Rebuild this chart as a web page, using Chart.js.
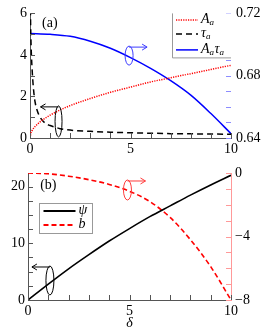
<!DOCTYPE html>
<html>
<head>
<meta charset="utf-8">
<script src="https://cdn.jsdelivr.net/npm/chart.js@4"></script>
<style>
body { margin: 0; background: #fff; }
#wrap { position: relative; width: 268px; height: 332px; }
canvas { position: absolute; left: 0; }
</style>
</head>
<body>
<div id="wrap">
  <canvas id="topChart" width="268" height="160" style="top:0px"></canvas>
  <canvas id="botChart" width="268" height="172" style="top:160px"></canvas>
</div>
<script>
// panel (a)
var deltaA = [0, 0.05, 0.1, 0.2, 0.3, 0.5, 0.75, 1, 1.5, 2, 3, 4, 5, 6, 7, 8, 9, 10];
var ampA = [0, 0.25, 0.35, 0.5, 0.6, 0.78, 0.95, 1.1, 1.35, 1.56, 1.9, 2.2, 2.45, 2.7, 2.9, 3.1, 3.3, 3.5];
var deltaTau = [0.02, 0.04, 0.07, 0.1, 0.13, 0.18, 0.25, 0.35, 0.5, 0.75, 1, 1.25, 1.5, 2, 3, 4, 5, 6, 7, 8, 9, 10];
var tauA = [6.2, 5.0, 4.0, 3.4, 2.9, 2.3, 1.75, 1.35, 1.0, 0.72, 0.6, 0.52, 0.45, 0.38, 0.32, 0.28, 0.25, 0.23, 0.21, 0.2, 0.19, 0.18];
var deltaP = [0, 1, 2, 3, 4, 5, 6, 7, 8, 9, 10];
var prodA = [0.7071, 0.7066, 0.7053, 0.7021, 0.6976, 0.6916, 0.6847, 0.6768, 0.6675, 0.6557, 0.6428];

// panel (b)
var deltaB = [0, 1, 2, 3, 4, 5, 6, 7, 8, 9, 10];
var psiB = [0, 2.8, 5.5, 8.0, 10.4, 12.6, 14.7, 16.6, 18.5, 20.3, 22.0];
var bB = [0, -0.05, -0.2, -0.42, -0.72, -1.15, -1.8, -2.8, -4.2, -5.9, -8.0];

// ticks
var xTicks = [0, 1, 2, 3, 4, 5, 6, 7, 8, 9, 10];
var xLabels = [0, 5, 10];
var aLeftTicks = [0, 1, 2, 3, 4, 5, 6];
var aLeftLabels = [0, 2, 4, 6];
var aRightTicks = [0.64, 0.65, 0.66, 0.67, 0.68, 0.69, 0.70, 0.71, 0.72];
var aRightLabels = [0.64, 0.68, 0.72];
var bLeftTicks = [0, 2.5, 5, 7.5, 10, 12.5, 15, 17.5, 20];
var bLeftLabels = [0, 10, 20];
var bRightTicks = [-8, -7, -6, -5, -4, -3, -2, -1, 0];
var bRightLabels = [-8, -4, 0];

var serif = "'Liberation Serif', 'DejaVu Serif', serif";
var axisGray = '#555';

function pts(xs, ys) {
  return xs.map(function (x, i) { return { x: x, y: ys[i] }; });
}

function setTicks(list) {
  return function (scale) {
    scale.ticks = list.map(function (v) { return { value: v }; });
  };
}

function tickMarks(chart, id, values, color) {
  var ctx = chart.ctx, s = chart.scales[id], a = chart.chartArea;
  ctx.save();
  ctx.strokeStyle = color;
  ctx.lineWidth = 1;
  ctx.beginPath();
  values.forEach(function (v) {
    var p = Math.round(s.getPixelForValue(v)) + 0.5;
    if (id === 'x') { ctx.moveTo(p, a.bottom); ctx.lineTo(p, a.bottom - 5); }
    else if (s.position === 'left') { ctx.moveTo(a.left, p); ctx.lineTo(a.left + 5, p); }
    else { ctx.moveTo(a.right, p); ctx.lineTo(a.right - 5, p); }
  });
  ctx.stroke();
  ctx.restore();
}

function ellipseArrow(ctx, cx, cy, rx, ry, color, dir) {
  ctx.save();
  ctx.strokeStyle = color;
  ctx.lineWidth = 1;
  ctx.beginPath();
  ctx.ellipse(cx, cy, rx, ry, 0, 0, Math.PI * 2);
  ctx.stroke();
  var y = cy - ry + 1;
  var x1 = cx + dir * 18;
  ctx.beginPath();
  ctx.moveTo(cx, y);
  ctx.lineTo(x1, y);
  ctx.moveTo(x1 - dir * 5, y - 3);
  ctx.lineTo(x1, y);
  ctx.lineTo(x1 - dir * 5, y + 3);
  ctx.stroke();
  ctx.restore();
}

function mathText(ctx, parts, x, y) {
  // parts: [text, isSub]
  parts.forEach(function (p) {
    ctx.font = 'italic ' + (p[1] ? 9 : 14) + 'px ' + serif;
    ctx.fillText(p[0], x, p[1] ? y + 3 : y);
    x += ctx.measureText(p[0]).width + (p[1] ? 0.5 : 0);
  });
}

function legendLine(ctx, x0, x1, y, color, dash, width) {
  ctx.save();
  ctx.strokeStyle = color;
  ctx.lineWidth = width;
  ctx.setLineDash(dash);
  ctx.beginPath();
  ctx.moveTo(x0, y);
  ctx.lineTo(x1, y);
  ctx.stroke();
  ctx.restore();
}

var decorA = {
  id: 'decorA',
  afterDatasetsDraw: function (chart) {
    var ctx = chart.ctx, sx = chart.scales.x, sy = chart.scales.y, sr = chart.scales.y2, a = chart.chartArea;
    tickMarks(chart, 'x', xTicks, axisGray);
    tickMarks(chart, 'y', aLeftTicks, axisGray);
    tickMarks(chart, 'y2', aRightTicks, '#8c8cff');
    ellipseArrow(ctx, sx.getPixelForValue(4.93), sr.getPixelForValue(0.6929), 4, 9.5, '#3c3cff', 1);
    ellipseArrow(ctx, sx.getPixelForValue(1.42), sy.getPixelForValue(0.8), 3.5, 15.5, '#000', -1);
    ctx.save();
    ctx.fillStyle = '#000';
    ctx.textBaseline = 'middle';
    ctx.font = '14px ' + serif;
    ctx.fillText('(a)', sx.getPixelForValue(0.6), sy.getPixelForValue(5.5));
    // legend box
    var bx = a.right - 59, by = a.top, bw = 59, bh = 44;
    ctx.fillStyle = '#fff';
    ctx.fillRect(bx, by, bw, bh);
    ctx.strokeStyle = '#999';
    ctx.lineWidth = 1;
    ctx.beginPath();
    ctx.moveTo(bx + 0.5, by);
    ctx.lineTo(bx + 0.5, by + bh + 0.5);
    ctx.lineTo(bx + bw, by + bh + 0.5);
    ctx.stroke();
    legendLine(ctx, bx + 4, bx + 26, by + 6.5, '#ff0000', [1.2, 1.2], 1.5);
    legendLine(ctx, bx + 4, bx + 26, by + 20.5, '#000', [6, 4], 1.5);
    legendLine(ctx, bx + 4, bx + 26, by + 36.5, '#0000ff', [], 1.5);
    ctx.fillStyle = '#000';
    mathText(ctx, [['A', 0], ['a', 1]], bx + 29, by + 6);
    mathText(ctx, [['τ', 0], ['a', 1]], bx + 29, by + 20);
    mathText(ctx, [['A', 0], ['a', 1], ['τ', 0], ['a', 1]], bx + 29, by + 36);
    ctx.restore();
  }
};

var decorB = {
  id: 'decorB',
  afterDatasetsDraw: function (chart) {
    var ctx = chart.ctx, sx = chart.scales.x, sy = chart.scales.y, sr = chart.scales.y2, a = chart.chartArea;
    tickMarks(chart, 'x', xTicks, axisGray);
    tickMarks(chart, 'y', bLeftTicks, axisGray);
    tickMarks(chart, 'y2', bRightTicks, '#ff9999');
    ellipseArrow(ctx, sx.getPixelForValue(4.9), sr.getPixelForValue(-1.07), 4, 10, '#ff3c3c', 1);
    ellipseArrow(ctx, sx.getPixelForValue(1.08), sy.getPixelForValue(3.44), 4, 14.5, '#000', -1);
    ctx.save();
    ctx.fillStyle = '#000';
    ctx.textBaseline = 'middle';
    ctx.font = '14px ' + serif;
    ctx.fillText('(b)', sx.getPixelForValue(0.6), sy.getPixelForValue(20.3));
    var bx = 39.5, by = 43.5, bw = 53, bh = 30;
    ctx.fillStyle = '#fff';
    ctx.fillRect(bx, by, bw, bh);
    ctx.strokeStyle = '#999';
    ctx.lineWidth = 1;
    ctx.strokeRect(bx, by, bw, bh);
    legendLine(ctx, bx + 4, bx + 36, by + 7.5, '#000', [], 1.8);
    legendLine(ctx, bx + 4, bx + 36, by + 21.5, '#ff0000', [5, 3], 1.8);
    ctx.fillStyle = '#000';
    mathText(ctx, [['ψ', 0]], bx + 39, by + 7);
    mathText(ctx, [['b', 0]], bx + 39, by + 21);
    ctx.restore();
  }
};

var tickFont = { family: serif, size: 14 };

function axis(extra) {
  var base = {
    type: 'linear',
    grid: { display: false, drawTicks: false },
    border: { display: true, color: axisGray, width: 1 },
    ticks: { font: tickFont, color: '#000', padding: 3 }
  };
  return Object.assign(base, extra);
}

new Chart(document.getElementById('topChart'), {
  type: 'line',
  data: {
    datasets: [
      { data: pts(deltaA, ampA), yAxisID: 'y', borderColor: '#ff0000', borderDash: [1.2, 1.2], borderWidth: 1.5, pointRadius: 0, cubicInterpolationMode: 'monotone' },
      { data: pts(deltaTau, tauA), yAxisID: 'y', borderColor: '#000', borderDash: [6, 4], borderWidth: 1.5, pointRadius: 0, cubicInterpolationMode: 'monotone' },
      { data: pts(deltaP, prodA), yAxisID: 'y2', borderColor: '#0000ff', borderWidth: 1.5, pointRadius: 0, cubicInterpolationMode: 'monotone' }
    ]
  },
  options: {
    responsive: false,
    animation: false,
    devicePixelRatio: 1,
    layout: { padding: { top: 13, left: 0, right: 0, bottom: 0 } },
    plugins: { legend: { display: false }, tooltip: { enabled: false } },
    scales: {
      x: axis({ min: 0, max: 10, afterBuildTicks: setTicks(xLabels), afterFit: function (s) { s.height = 22; } }),
      y: axis({ position: 'left', min: 0, max: 6, afterBuildTicks: setTicks(aLeftLabels), afterFit: function (s) { s.width = 30; } }),
      y2: axis({
        position: 'right', min: 0.64, max: 0.72,
        border: { display: false },
        afterBuildTicks: setTicks(aRightLabels),
        afterFit: function (s) { s.width = 37; },
        ticks: { font: tickFont, color: '#000', padding: 5, callback: function (v) { return v.toFixed(2); } }
      })
    }
  },
  plugins: [decorA]
});

new Chart(document.getElementById('botChart'), {
  type: 'line',
  data: {
    datasets: [
      { data: pts(deltaB, psiB), yAxisID: 'y', borderColor: '#000', borderWidth: 1.6, pointRadius: 0, cubicInterpolationMode: 'monotone' },
      { data: pts(deltaB, bB), yAxisID: 'y2', borderColor: '#ff0000', borderDash: [5, 3], borderWidth: 1.6, pointRadius: 0, cubicInterpolationMode: 'monotone' }
    ]
  },
  options: {
    responsive: false,
    animation: false,
    devicePixelRatio: 1,
    layout: { padding: { top: 13, left: 0, right: 0, bottom: 0 } },
    plugins: { legend: { display: false }, tooltip: { enabled: false } },
    scales: {
      x: axis({
        min: 0, max: 10,
        afterBuildTicks: setTicks(xLabels),
        afterFit: function (s) { s.height = 32; },
        title: { display: true, text: 'δ', color: '#000', font: { family: serif, size: 14, style: 'italic' }, padding: { top: 1, bottom: 0 } }
      }),
      y: axis({ position: 'left', min: 0, max: 22.4, afterBuildTicks: setTicks(bLeftLabels), afterFit: function (s) { s.width = 28; } }),
      y2: axis({
        position: 'right', min: -8, max: 0,
        border: { display: true, color: '#ff9999', width: 1 },
        afterBuildTicks: setTicks(bRightLabels),
        afterFit: function (s) { s.width = 37; },
        ticks: { font: tickFont, color: '#000', padding: 4, callback: function (v) { return String(v).replace('-', '\u2212'); } }
      })
    }
  },
  plugins: [decorB]
});
</script>
</body>
</html>
